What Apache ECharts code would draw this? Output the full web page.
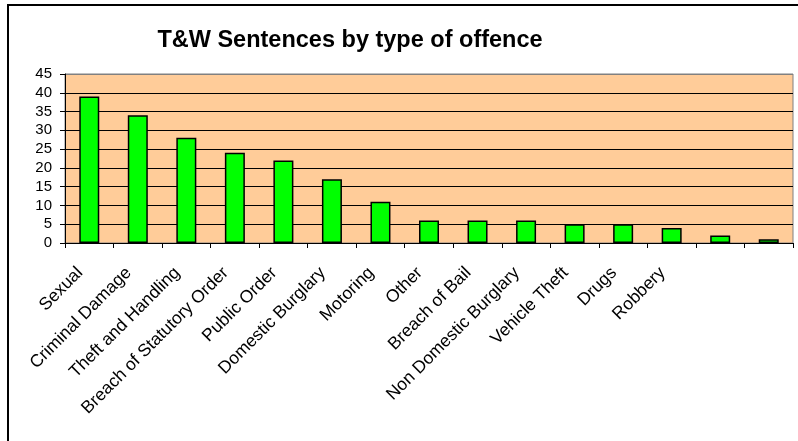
<!DOCTYPE html>
<html>
<head>
<meta charset="utf-8">
<script src="https://cdn.jsdelivr.net/npm/echarts@6/dist/echarts.min.js"></script>
<style>
  html, body { margin: 0; padding: 0; background: #fff; }
  #main { width: 798px; height: 441px; }
</style>
</head>
<body>
<div id="main"></div>
<script>
// offence categories (last two have no label in the original)
var categories = ['Sexual', 'Criminal Damage', 'Theft and Handling', 'Breach of Statutory Order',
  'Public Order', 'Domestic Burglary', 'Motoring', 'Other', 'Breach of Bail',
  'Non Domestic Burglary', 'Vehicle Theft', 'Drugs', 'Robbery', '', ' '];
var sentences = [39, 34, 28, 24, 22, 17, 11, 6, 6, 6, 5, 5, 4, 2, 1];
var yTicks = [0, 45, 5]; // min, max, step

var myChart = echarts.init(document.getElementById('main'));

// black grid lines, grey top edge like the plot border
var gridColors = [];
for (var v = yTicks[0]; v <= yTicks[1]; v += yTicks[2]) {
  gridColors.push(v === yTicks[1] ? '#808080' : '#000000');
}

var option = {
  backgroundColor: '#ffffff',
  animation: false,
  textStyle: { fontFamily: 'Liberation Sans, Arial, sans-serif' },
  title: {
    text: 'T&W Sentences by type of offence',
    left: 345,
    top: 24,
    textAlign: 'center',
    textStyle: { fontSize: 23.5, fontWeight: 'bold', color: '#000', fontFamily: 'Liberation Sans, Arial, sans-serif' }
  },
  graphic: [{
    type: 'rect',
    shape: { x: 8, y: 5, width: 900, height: 500 },
    style: { fill: 'none', stroke: '#000', lineWidth: 2 },
    silent: true
  }],
  grid: {
    left: 65,
    right: 5,
    top: 74,
    bottom: 198,
    show: true,
    backgroundColor: '#FFCC99',
    borderColor: '#808080',
    borderWidth: 1
  },
  xAxis: {
    type: 'category',
    data: categories,
    axisLine: { lineStyle: { color: '#000', width: 1 } },
    axisTick: { show: true, length: 5, lineStyle: { color: '#000' } },
    axisLabel: {
      rotate: 45,
      interval: 0,
      margin: 18,
      padding: [0, 13, 0, 0],
      fontSize: 17.5,
      color: '#000'
    }
  },
  yAxis: {
    type: 'value',
    min: yTicks[0],
    max: yTicks[1],
    interval: yTicks[2],
    axisLine: { show: true, lineStyle: { color: '#000', width: 1 } },
    axisTick: { show: true, length: 5, lineStyle: { color: '#000' } },
    axisLabel: { fontSize: 15, color: '#000', margin: 13 },
    splitLine: { show: true, lineStyle: { color: gridColors, width: 1 } }
  },
  series: [{
    name: 'Sentences',
    type: 'bar',
    data: sentences,
    barWidth: 20,
    itemStyle: {
      color: '#00FF00',
      borderColor: '#000',
      borderWidth: 1.5
    }
  }]
};

option && myChart.setOption(option);
</script>
</body>
</html>
